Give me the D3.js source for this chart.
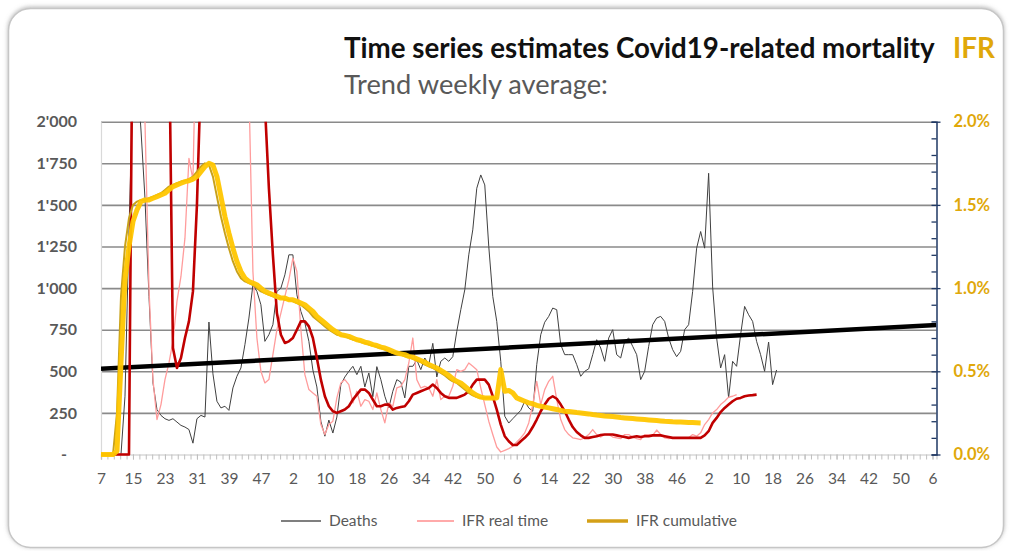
<!DOCTYPE html>
<html>
<head>
<meta charset="utf-8">
<script src="https://cdn.jsdelivr.net/npm/d3@7"></script>
<style>
  body { margin: 0; background: #fff; }
  text { font-family: Lato, "Open Sans", sans-serif; }
</style>
</head>
<body>
<svg id="chart" width="1010" height="551"></svg>
<script>
// week index 0 = week 7 (2020), one step = one week
var xLabels = ["7","15","23","31","39","47","2","10","18","26","34","42","50","6",
               "14","22","30","38","46","2","10","18","26","34","42","50","6"];
var leftTicks = [0, 250, 500, 750, 1000, 1250, 1500, 1750, 2000];
var rightTicks = [0, 0.5, 1.0, 1.5, 2.0];

// weekly deaths (left axis)
var deaths = [0,0,0,0,0,0,350,1350,2200,2300,
  1950,1540,950,430,270,235,215,205,215,195,
  175,165,150,68,215,235,225,796,485,320,
  280,290,265,400,470,520,660,820,1020,980,
  900,680,720,780,980,1000,1080,1200,1200,960,
  860,790,680,508,406,200,110,207,129,225,
  420,466,500,530,480,530,406,490,347,528,
  450,350,280,380,450,435,340,530,530,568,
  510,580,540,668,466,560,580,560,588,740,
  870,990,1200,1350,1600,1680,1620,1250,950,800,
  560,230,189,215,240,265,320,280,260,540,
  720,795,830,880,870,660,600,600,600,540,
  470,500,515,600,690,640,560,700,750,600,
  580,680,700,650,600,450,500,650,780,820,
  830,800,700,630,588,620,750,780,980,1240,
  1340,1240,1690,1007,700,520,600,340,560,530,
  720,890,840,800,680,600,500,676,420,508];

// linear trend of deaths (start week, end week)
var trendWeeks = [0, 209];
var trendValues = [515, 778];

// IFR real time, % (right axis)
var ifrReal = [0,0,0,0,0,0,0,0,3.0,3.0,
  2.8,2.0,1.0,0.45,0.21,0.30,0.45,0.55,0.68,0.92,
  1.07,1.30,1.78,1.65,2.8,3.2,3.2,3.2,3.2,3.2,
  3.2,3.2,3.2,3.2,3.2,3.2,3.0,2.2,1.1,0.7,
  0.5,0.43,0.45,0.6,0.75,0.85,0.95,1.05,1.18,1.10,
  0.75,0.48,0.39,0.37,0.35,0.18,0.12,0.18,0.20,0.34,
  0.43,0.45,0.42,0.31,0.38,0.29,0.33,0.32,0.27,0.37,
  0.27,0.19,0.31,0.29,0.40,0.41,0.45,0.55,0.70,0.45,
  0.40,0.41,0.40,0.35,0.45,0.33,0.35,0.35,0.41,0.51,
  0.50,0.51,0.55,0.53,0.51,0.40,0.30,0.20,0.12,0.045,
  0.015,0.025,0.035,0.05,0.075,0.10,0.13,0.19,0.30,0.44,
  0.30,0.39,0.44,0.47,0.33,0.21,0.15,0.12,0.10,0.095,
  0.09,0.10,0.12,0.15,0.12,0.105,0.12,0.12,0.105,0.10,
  0.095,0.12,0.12,0.105,0.095,0.09,0.12,0.12,0.115,0.147,
  0.12,0.10,0.095,0.10,0.10,0.10,0.10,0.10,0.12,0.11,
  0.13,0.18,0.21,0.25,0.27,0.30,0.32,0.345,0.35,0.36];

// IFR real time, trend (%)
var ifrRealTrend = [0,0,0,0,0,0,0,0,3.0,3.0,
  3.0,3.0,3.0,3.0,3.0,3.0,3.0,2.6,0.64,0.52,
  0.58,0.70,0.80,0.98,1.5,2.3,3.0,3.0,3.0,3.0,
  3.0,3.0,3.0,3.0,3.0,3.0,3.0,3.0,3.0,3.0,
  3.0,2.1,1.6,1.2,0.85,0.72,0.67,0.68,0.70,0.75,
  0.80,0.80,0.77,0.70,0.58,0.45,0.35,0.29,0.26,0.25,
  0.26,0.27,0.29,0.33,0.36,0.39,0.39,0.37,0.33,0.29,
  0.29,0.30,0.30,0.27,0.28,0.285,0.29,0.32,0.36,0.37,
  0.38,0.39,0.40,0.42,0.40,0.37,0.35,0.34,0.34,0.34,
  0.35,0.36,0.38,0.42,0.45,0.45,0.45,0.42,0.35,0.27,
  0.18,0.11,0.08,0.057,0.057,0.08,0.10,0.125,0.165,0.21,
  0.26,0.30,0.335,0.35,0.335,0.30,0.26,0.21,0.165,0.135,
  0.115,0.10,0.10,0.105,0.11,0.117,0.12,0.12,0.12,0.115,
  0.11,0.105,0.10,0.105,0.11,0.105,0.11,0.11,0.115,0.115,
  0.115,0.11,0.105,0.10,0.10,0.10,0.10,0.10,0.10,0.10,
  0.10,0.115,0.14,0.19,0.22,0.255,0.28,0.30,0.32,0.335,
  0.34,0.35,0.355,0.357,0.36];

// IFR cumulative (%)
var ifrCum = [0,0,0,0,0.25,0.95,1.25,1.42,1.50,1.52,
  1.53,1.53,1.54,1.55,1.56,1.57,1.59,1.61,1.62,1.63,
  1.64,1.645,1.655,1.67,1.70,1.73,1.75,1.74,1.67,1.55,
  1.43,1.33,1.24,1.16,1.10,1.06,1.04,1.03,1.02,1.00,
  0.98,0.97,0.96,0.95,0.94,0.94,0.93,0.93,0.92,0.91,
  0.90,0.88,0.86,0.83,0.81,0.79,0.77,0.75,0.735,0.72,
  0.715,0.71,0.70,0.69,0.685,0.675,0.67,0.66,0.655,0.645,
  0.64,0.63,0.62,0.61,0.605,0.60,0.59,0.585,0.575,0.565,
  0.555,0.54,0.53,0.52,0.505,0.49,0.475,0.455,0.44,0.43,
  0.41,0.39,0.37,0.355,0.345,0.34,0.34,0.34,0.34,0.34];

// IFR cumulative, trend (%)
var ifrCumTrend = [0,0,0,0,0.02,0.55,1.05,1.25,1.40,1.47,
  1.52,1.53,1.53,1.54,1.55,1.56,1.57,1.59,1.61,1.62,
  1.63,1.64,1.645,1.655,1.67,1.70,1.73,1.75,1.74,1.67,
  1.55,1.43,1.33,1.24,1.16,1.10,1.06,1.04,1.03,1.02,
  1.00,0.98,0.97,0.96,0.95,0.94,0.94,0.93,0.93,0.92,
  0.91,0.90,0.88,0.86,0.83,0.81,0.79,0.77,0.75,0.735,
  0.72,0.715,0.71,0.70,0.69,0.685,0.675,0.67,0.66,0.655,
  0.645,0.64,0.63,0.62,0.61,0.605,0.60,0.59,0.585,0.575,
  0.565,0.555,0.54,0.53,0.52,0.505,0.49,0.475,0.455,0.44,
  0.43,0.41,0.39,0.37,0.355,0.345,0.34,0.34,0.34,0.34,
  0.51,0.38,0.385,0.37,0.34,0.33,0.32,0.31,0.305,0.295,
  0.29,0.285,0.28,0.275,0.27,0.265,0.26,0.258,0.255,0.252,
  0.25,0.247,0.244,0.24,0.237,0.235,0.232,0.23,0.228,0.225,
  0.222,0.22,0.218,0.216,0.214,0.212,0.21,0.208,0.206,0.204,
  0.202,0.20,0.199,0.197,0.196,0.195,0.194,0.193,0.192,0.191,0.19];

var legendNames = ["Deaths", "IFR real time", "IFR cumulative"];
var legendColors = ["#7f7f7f", "#ffaaaa", "#d4a017"];

var pL = 101, pR = 936.5, pT = 121.7, pB = 454.5;
var gold = "#e0a80a";

var svg = d3.select("#chart");

// card
var defs = svg.append("defs");
var f = defs.append("filter").attr("id", "shadow").attr("x", "-5%").attr("y", "-5%")
  .attr("width", "110%").attr("height", "110%");
f.append("feDropShadow").attr("dx", 0).attr("dy", -1).attr("stdDeviation", 2)
  .attr("flood-color", "#888").attr("flood-opacity", 0.6);
svg.append("rect")
  .attr("x", 8.5).attr("y", 8.5).attr("width", 995).attr("height", 539)
  .attr("rx", 22).attr("fill", "#fff").attr("stroke", "#c6c6c6").attr("stroke-width", 1.5)
  .attr("filter", "url(#shadow)");

defs.append("clipPath").attr("id", "plot")
  .append("rect").attr("x", pL).attr("y", pT).attr("width", pR - pL).attr("height", 340);

var x = d3.scaleLinear().domain([0, 209]).range([pL, pR]);
var yL = d3.scaleLinear().domain([0, 2000]).range([pB, pT]);
var yR = d3.scaleLinear().domain([0, 2]).range([pB, pT]);

var fmt = d3.formatLocale({decimal: ".", thousands: "'", grouping: [3], currency: ["", ""]}).format(",");

// gridlines
svg.append("g").attr("transform", "translate(" + pL + ",0)")
  .call(d3.axisLeft(yL).tickValues(leftTicks.slice(1)).tickSize(-(pR - pL)).tickFormat(""))
  .call(function(g) {
    g.select(".domain").remove();
    g.selectAll("line").attr("stroke", "#8a8a8a").attr("stroke-width", 1.6);
  });

// left axis
svg.append("g").attr("transform", "translate(" + pL + ",0)")
  .call(d3.axisLeft(yL).tickValues(leftTicks).tickSize(0).tickPadding(24)
    .tickFormat(function(d) { return d === 0 ? "-" : fmt(d); }))
  .call(function(g) {
    g.select(".domain").attr("stroke", "#d9d9d9").attr("stroke-width", 1.2);
    g.selectAll("text").attr("font-size", 16).attr("font-weight", "bold").attr("fill", "#595959");
    g.selectAll(".tick").filter(function(d) { return d === 0; }).select("text").attr("x", -34);
  });

// bottom axis: minor ticks + labelled ticks
svg.append("g").attr("transform", "translate(0," + pB + ")")
  .call(d3.axisBottom(x).tickValues(d3.range(0, 209.5, 1.6)).tickSize(5).tickFormat(""))
  .call(function(g) {
    g.select(".domain").attr("stroke", "#d9d9d9").attr("stroke-width", 1.6);
    g.selectAll("line").attr("stroke", "#bfbfbf");
  });
svg.append("g").attr("transform", "translate(0," + pB + ")")
  .call(d3.axisBottom(x).tickValues(d3.range(0, 209, 8)).tickSize(5)
    .tickFormat(function(d, i) { return xLabels[i]; }))
  .call(function(g) {
    g.select(".domain").remove();
    g.selectAll("line").attr("stroke", "#bfbfbf");
    g.selectAll("text").attr("y", 29).attr("dy", 0).attr("font-size", 15.5).attr("fill", "#595959");
  });

// series
var lineL = d3.line().x(function(d, i) { return x(i); }).y(function(d) { return yL(d); });
var lineR = d3.line().x(function(d, i) { return x(i); }).y(function(d) { return yR(d); });
var plot = svg.append("g").attr("clip-path", "url(#plot)").attr("fill", "none")
  .attr("stroke-linejoin", "round");

plot.append("path").datum(deaths).attr("d", lineL)
  .attr("stroke", "#404040").attr("stroke-width", 1);
plot.append("path").datum(ifrReal).attr("d", lineR)
  .attr("stroke", "#ff9c9c").attr("stroke-width", 1.3);
plot.append("path")
  .datum(trendWeeks.map(function(w, i) { return [w, trendValues[i]]; }))
  .attr("d", d3.line().x(function(d) { return x(d[0]); }).y(function(d) { return yL(d[1]); }))
  .attr("stroke", "#000").attr("stroke-width", 4.5);
plot.append("path").datum(ifrRealTrend).attr("d", lineR)
  .attr("stroke", "#c00000").attr("stroke-width", 2.6);
plot.append("path").datum(ifrCum).attr("d", lineR)
  .attr("stroke", "#c9a21a").attr("stroke-width", 2);
plot.append("path").datum(ifrCumTrend).attr("d", lineR)
  .attr("stroke", "#ffc600").attr("stroke-width", 5).attr("stroke-opacity", 0.95);

// right axis
svg.append("g").attr("transform", "translate(" + pR + ",0)")
  .call(d3.axisRight(yR).tickValues(d3.range(0, 2.05, 0.1)).tickSize(-5).tickFormat(""))
  .call(function(g) {
    g.select(".domain").attr("stroke", "#1f3864").attr("stroke-width", 1.5);
    g.selectAll("line").attr("stroke", "#1f3864").attr("stroke-width", 1.3);
  });
svg.append("g").attr("transform", "translate(" + pR + ",0)")
  .call(d3.axisRight(yR).tickValues(rightTicks).tickSize(4).tickPadding(13)
    .tickFormat(function(d) { return d.toFixed(1) + "%"; }))
  .call(function(g) {
    g.select(".domain").remove();
    g.selectAll("line").attr("stroke", "#1f3864").attr("stroke-width", 1.3);
    g.selectAll("text").attr("font-size", 16.5).attr("font-weight", "bold").attr("fill", gold);
  });

// titles
function fit(sel, w) {
  var fs = parseFloat(sel.attr("font-size"));
  sel.attr("font-size", fs * w / sel.node().getComputedTextLength());
  return sel;
}
fit(svg.append("text").attr("x", 344).attr("y", 58).attr("font-size", 22)
  .attr("font-weight", "bold").attr("fill", "#111")
  .text("Time series estimates Covid19-related mortality"), 591);
fit(svg.append("text").attr("x", 953).attr("y", 58).attr("font-size", 22)
  .attr("font-weight", "bold").attr("fill", gold).text("IFR"), 42);
fit(svg.append("text").attr("x", 344).attr("y", 94).attr("font-size", 24)
  .attr("fill", "#595959").text("Trend weekly average:"), 264);

// legend
var legX = [281, 417, 587];
var legW = [40, 37, 41];
var lg = svg.append("g");
legendNames.forEach(function(name, i) {
  lg.append("line").attr("x1", legX[i]).attr("x2", legX[i] + legW[i])
    .attr("y1", 521).attr("y2", 521)
    .attr("stroke", legendColors[i]).attr("stroke-width", i === 2 ? 3.5 : 2);
  lg.append("text").attr("x", legX[i] + legW[i] + 8).attr("y", 526)
    .attr("font-size", 15.5).attr("fill", "#595959").text(name);
});
</script>
</body>
</html>
